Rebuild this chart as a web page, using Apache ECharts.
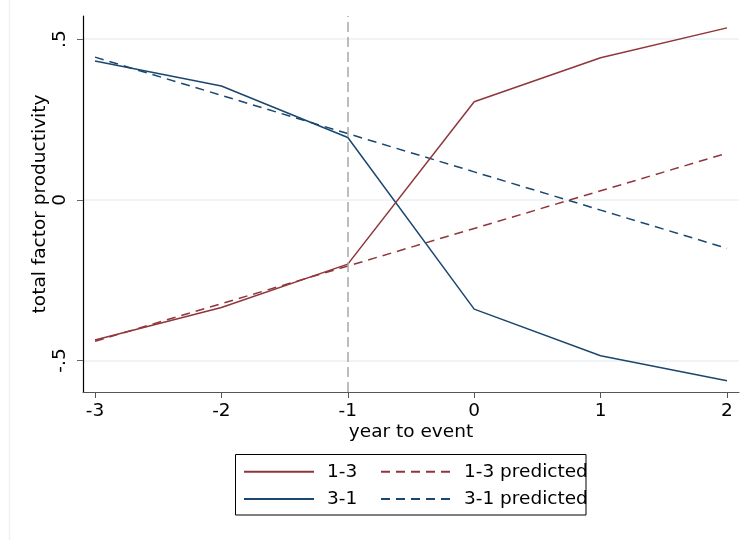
<!DOCTYPE html>
<html>
<head>
<meta charset="utf-8">
<title>total factor productivity around the event</title>
<script src="https://cdn.jsdelivr.net/npm/echarts@6/dist/echarts.min.js"></script>
<style>
  html, body { margin: 0; padding: 0; background: #ffffff; }
  #chart { width: 745px; height: 540px; }
</style>
</head>
<body>
<div id="chart"></div>
<script>
// Years relative to the event
var years = [-3, -2, -1, 0, 1, 2];
var eventYear = -1;

// Observed TFP by transition group
var tfp13 = [-0.436, -0.335, -0.200, 0.305, 0.442, 0.535];
var tfp31 = [0.432, 0.354, 0.194, -0.340, -0.485, -0.563];

// Pre-trend predictions
var tfp13Pred = [-0.440, -0.323, -0.206, -0.089, 0.028, 0.145];
var tfp31Pred = [0.444, 0.325, 0.206, 0.087, -0.032, -0.151];

// Axis ticks
var xTicks = [-3, -2, -1, 0, 1, 2];
var yTicks = [-0.5, 0, 0.5];
var yTickLabels = ['-.5', '0', '.5'];

var maroon = '#90353b';
var navy = '#1a476f';
var FONT = 'DejaVu Sans';
var FS = 18.5;

function pairs(xs, ys) {
  return xs.map(function (x, i) { return [x, ys[i]]; });
}

var chart = echarts.init(document.getElementById('chart'), null, { renderer: 'canvas' });

var legendBase = {
  orient: 'vertical',
  top: 460.7,
  padding: 0,
  itemGap: 5.3,
  itemHeight: 14,
  selectedMode: false,
  itemStyle: { opacity: 0 },
  textStyle: { fontFamily: FONT, fontSize: FS, color: '#000', lineHeight: 22 }
};

var option = {
  backgroundColor: '#ffffff',
  animation: false,
  textStyle: { fontFamily: FONT, color: '#000' },
  grid: { left: 83, right: 6, top: 16, bottom: 148, containLabel: false },
  xAxis: {
    type: 'value',
    min: -3.095,
    max: 2.095,
    name: 'year to event',
    nameLocation: 'middle',
    nameGap: 29,
    nameMoveOverlap: false,
    nameTextStyle: { fontFamily: FONT, fontSize: FS, color: '#000', lineHeight: 22 },
    axisLine: { show: true, onZero: false, lineStyle: { color: '#555', width: 1.2 } },
    axisTick: { show: true, length: 6, customValues: xTicks, lineStyle: { color: '#555', width: 1 } },
    axisLabel: {
      customValues: xTicks,
      margin: 8,
      fontFamily: FONT, fontSize: FS, color: '#000', lineHeight: 22,
      formatter: function (v) { return String(v); }
    },
    splitLine: { show: false }
  },
  yAxis: {
    type: 'value',
    min: -0.598,
    max: 0.572,
    name: 'total factor productivity',
    nameLocation: 'middle',
    nameRotate: 90,
    nameGap: 32,
    nameMoveOverlap: false,
    nameTextStyle: { fontFamily: FONT, fontSize: FS, color: '#000', lineHeight: 22 },
    axisLine: { show: true, onZero: false, lineStyle: { color: '#000', width: 1.2 } },
    axisTick: { show: true, length: 6, customValues: yTicks, lineStyle: { color: '#666', width: 1 } },
    axisLabel: {
      customValues: yTicks,
      rotate: 90,
      margin: 12,
      fontFamily: FONT, fontSize: FS, color: '#000', lineHeight: 22,
      formatter: function (v) {
        var i = yTicks.indexOf(v);
        return i >= 0 ? yTickLabels[i] : '';
      }
    },
    splitLine: { show: true, lineStyle: { color: '#eaf2f3', width: 1.5 } }
  },
  legend: [
    Object.assign({}, legendBase, {
      data: ['1-3', '3-1'],
      left: 243,
      itemWidth: 70,
      textStyle: Object.assign({}, legendBase.textStyle, { padding: [0, 0, 0, 8] })
    }),
    Object.assign({}, legendBase, {
      data: ['1-3 predicted', '3-1 predicted'],
      left: 380,
      itemWidth: 71,
      textStyle: Object.assign({}, legendBase.textStyle, { padding: [0, 0, 0, 7] })
    })
  ],
  graphic: [
    {
      type: 'rect',
      shape: { x: 235.5, y: 454.5, width: 350.5, height: 60.5 },
      style: { fill: 'none', stroke: '#000', lineWidth: 1 },
      silent: true
    },
    {
      type: 'line',
      shape: { x1: 9.5, y1: 0, x2: 9.5, y2: 540 },
      style: { stroke: '#edf3f3', lineWidth: 1.5 },
      silent: true
    }
  ],
  series: [
    {
      name: '1-3 predicted',
      type: 'line',
      data: pairs(years, tfp13Pred),
      symbol: 'none',
      color: maroon,
      lineStyle: { color: maroon, width: 1.5, type: [9, 6] },
      z: 2
    },
    {
      name: '3-1 predicted',
      type: 'line',
      data: pairs(years, tfp31Pred),
      symbol: 'none',
      color: navy,
      lineStyle: { color: navy, width: 1.5, type: [9, 6] },
      z: 2
    },
    {
      name: '3-1',
      type: 'line',
      data: pairs(years, tfp31),
      symbol: 'none',
      color: navy,
      lineStyle: { color: navy, width: 1.5, type: 'solid' },
      z: 3
    },
    {
      name: '1-3',
      type: 'line',
      data: pairs(years, tfp13),
      symbol: 'none',
      color: maroon,
      lineStyle: { color: maroon, width: 1.5, type: 'solid' },
      z: 4,
      markLine: {
        silent: true,
        symbol: 'none',
        label: { show: false },
        lineStyle: { color: '#a8a8a8', width: 1.5, type: [10, 5] },
        data: [{ xAxis: eventYear }]
      }
    }
  ]
};

chart.setOption(option);
</script>
</body>
</html>
